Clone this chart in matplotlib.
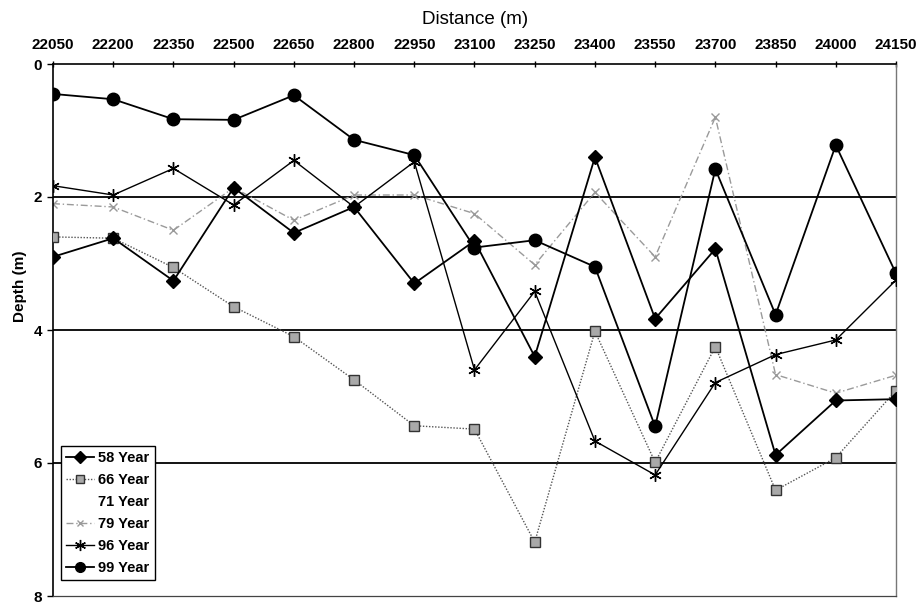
import matplotlib
matplotlib.use("Agg")
import matplotlib.pyplot as plt
from matplotlib.lines import Line2D

# Survey stations along the channel (m) and bed depth (m) per survey year
distance = [22050, 22200, 22350, 22500, 22650, 22800, 22950, 23100,
            23250, 23400, 23550, 23700, 23850, 24000, 24150]
depth_58 = [2.90, 2.62, 3.26, 1.86, 2.54, 2.15, 3.30, 2.66,
            4.40, 1.40, 3.83, 2.78, 5.88, 5.06, 5.04]
depth_66 = [2.60, 2.62, 3.06, 3.65, 4.10, 4.75, 5.44, 5.49,
            7.19, 4.02, 5.99, 4.25, 6.41, 5.92, 4.91]
depth_79 = [2.10, 2.15, 2.50, 1.86, 2.35, 1.97, 1.97, 2.25,
            3.02, 1.93, 2.90, 0.80, 4.67, 4.95, 4.68]
depth_96 = [1.83, 1.97, 1.57, 2.12, 1.45, 2.15, 1.47, 4.60,
            3.42, 5.67, 6.18, 4.79, 4.37, 4.15, 3.25]
depth_99 = [0.45, 0.53, 0.83, 0.84, 0.47, 1.14, 1.37, 2.76,
            2.65, 3.05, 5.45, 1.58, 3.77, 1.22, 3.15]
series_labels = ["58 Year", "66 Year", "71 Year", "79 Year", "96 Year", "99 Year"]
depth_ticks = [0, 2, 4, 6, 8]

W, H = 917, 603
fig = plt.figure(figsize=(W / 100, H / 100), dpi=100)
fig.patch.set_facecolor("white")

# axes box in pixel terms: left 53, right 896, top 64, bottom 596
L, R, T, B = 53, 896, 64, 596
ax = fig.add_axes([L / W, 1 - B / H, (R - L) / W, (B - T) / H])

narrow = ["Liberation Sans Narrow", "Liberation Sans", "DejaVu Sans"]
sans = ["Liberation Sans", "DejaVu Sans"]

# horizontal reference lines at 2, 4 and 6 m
for g in depth_ticks[1:-1]:
    ax.axhline(g, color="black", lw=1.3, zorder=1)

asterisk = (6, 2, 0)

ax.plot(distance, depth_66, linestyle=(0, (1, 1.2)), color="#555555", lw=1.0,
        marker="s", ms=7, mfc="#a9a9a9", mec="#333333", mew=1.0, zorder=3)
ax.plot(distance, depth_79, linestyle=(0, (5, 2, 1, 2)), color="#9a9a9a", lw=1.0,
        marker="x", ms=6, mec="#9a9a9a", mew=1.0, zorder=2)
ax.plot(distance, depth_96, linestyle="-", color="black", lw=1.0,
        marker=asterisk, ms=9, mec="black", mew=1.0, zorder=4)
ax.plot(distance, depth_58, linestyle="-", color="black", lw=1.3,
        marker="D", ms=7, mfc="black", mec="black", zorder=5)
ax.plot(distance, depth_99, linestyle="-", color="black", lw=1.3,
        marker="o", ms=9, mfc="black", mec="black", zorder=6)

ax.set_xlim(distance[0], distance[-1])
ax.set_ylim(8, 0)
ax.set_xticks(distance)
ax.set_yticks(depth_ticks)
ax.xaxis.tick_top()
ax.xaxis.set_label_position("top")
ax.tick_params(axis="x", direction="inout", length=5, width=1, pad=6, color="black")
ax.tick_params(axis="y", direction="out", length=4, width=1, pad=4, color="black")
for lab in ax.get_xticklabels():
    lab.set_fontfamily(narrow)
    lab.set_fontweight("bold")
    lab.set_fontsize(11)
for lab in ax.get_yticklabels():
    lab.set_fontfamily(narrow)
    lab.set_fontweight("bold")
    lab.set_fontsize(11)

for side in ("top", "left"):
    ax.spines[side].set_color("black")
    ax.spines[side].set_linewidth(1.2)
ax.spines["right"].set_color("#777777")
ax.spines["right"].set_linestyle((0, (1, 1)))
ax.spines["right"].set_linewidth(1.0)
ax.spines["bottom"].set_color("#444444")
ax.spines["bottom"].set_linewidth(0.9)

fig.text(475 / W, 1 - 19 / H, "Distance (m)", ha="center", va="center",
         fontsize=13.5, family=sans)
fig.text(20 / W, 1 - 286 / H, "Depth (m)", ha="center", va="center",
         rotation=90, fontsize=11, fontweight="bold", family=sans)

handles = [
    Line2D([], [], color="black", lw=1.3, marker="D", ms=6, mfc="black", mec="black"),
    Line2D([], [], color="#555555", lw=1.0, linestyle=(0, (1, 1.2)), marker="s", ms=6,
           mfc="#a9a9a9", mec="#333333"),
    Line2D([], [], linestyle="none", marker="none"),
    Line2D([], [], color="#9a9a9a", lw=1.0, linestyle=(0, (5, 2, 1, 2)), marker="x",
           ms=5, mec="#9a9a9a"),
    Line2D([], [], color="black", lw=1.0, marker=asterisk, ms=8, mec="black"),
    Line2D([], [], color="black", lw=1.3, marker="o", ms=7, mfc="black", mec="black"),
]
leg = ax.legend(handles, series_labels, loc="upper left",
                bbox_to_anchor=(61 / W, 1 - 446 / H), bbox_transform=fig.transFigure,
                prop={"family": sans, "weight": "bold", "size": 10.5},
                frameon=True, fancybox=False, shadow=False, framealpha=1,
                edgecolor="black", handlelength=1.9, handletextpad=0.3,
                borderpad=0.35, labelspacing=0.55, borderaxespad=0)
leg.get_frame().set_linewidth(1.0)

fig.savefig("out.png", dpi=100, facecolor="white")
